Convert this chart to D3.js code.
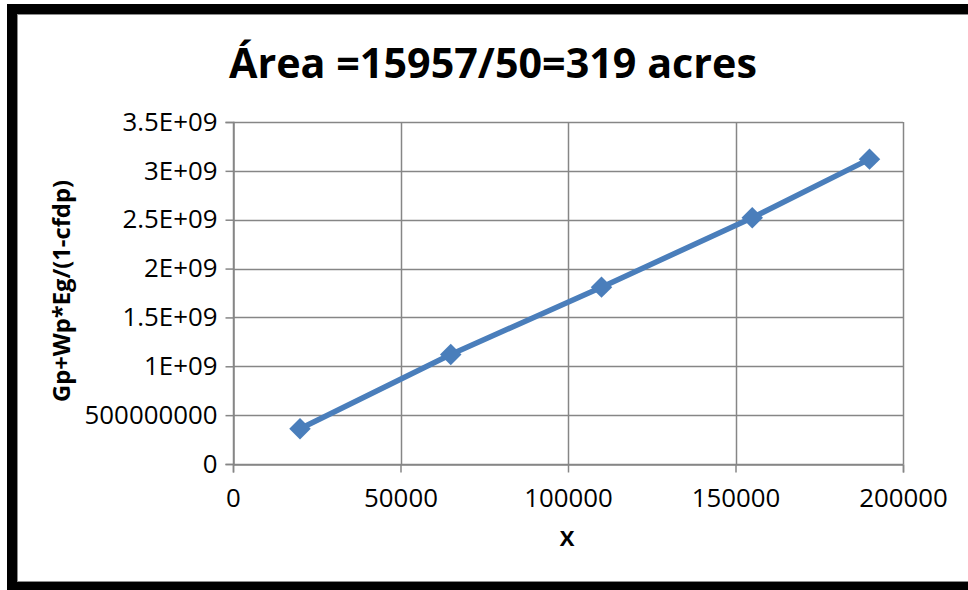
<!DOCTYPE html>
<html>
<head>
<meta charset="utf-8">
<script src="https://cdn.jsdelivr.net/npm/d3@7"></script>
<style>
  html, body { margin: 0; padding: 0; background: #fff; }
  svg { display: block; font-family: "Open Sans", Lato, sans-serif; }
</style>
</head>
<body>
<svg id="chart" width="968" height="590"></svg>
<script>
// Series: X vs Gp+Wp*Eg/(1-cfdp)
const xValues = [20000, 65000, 110000, 155000, 190000];
const yValues = [3.6e8, 1.12e9, 1.81e9, 2.52e9, 3.12e9];

// Axis ticks and labels
const xTicks = [0, 50000, 100000, 150000, 200000];
const xTickLabels = ["0", "50000", "100000", "150000", "200000"];
const yTicks = [0, 5e8, 1e9, 1.5e9, 2e9, 2.5e9, 3e9, 3.5e9];
const yTickLabels = ["0", "500000000", "1E+09", "1.5E+09", "2E+09", "2.5E+09", "3E+09", "3.5E+09"];

const titleText = "Área =15957/50=319 acres";
const xTitle = "X";
const yTitle = "Gp+Wp*Eg/(1-cfdp)";

const FONT = "'Open Sans', Lato, sans-serif";
const svg = d3.select("#chart");
const plot = { left: 233, right: 903, top: 122, bottom: 464 };

const x = d3.scaleLinear().domain([0, 200000]).range([plot.left, plot.right]);
const y = d3.scaleLinear().domain([0, 3.5e9]).range([plot.bottom, plot.top]);

// Font size that makes a string span the given width
function fitSize(text, weight, width) {
  const t = svg.append("text").attr("font-family", FONT).attr("font-weight", weight)
    .attr("font-size", 100).text(text);
  const w = t.node().getComputedTextLength();
  t.remove();
  return 100 * width / w;
}

const tickSize = fitSize("3.5E+09", "normal", 95);

// Outer frame: thick black border with a thin grey inner edge
svg.append("rect")
  .attr("x", 12).attr("y", 9).attr("width", 1000).attr("height", 578)
  .attr("fill", "none").attr("stroke", "#000").attr("stroke-width", 10);
svg.append("rect")
  .attr("x", 17.5).attr("y", 14.5).attr("width", 1000).attr("height", 567)
  .attr("fill", "none").attr("stroke", "#8c8c8c").attr("stroke-width", 1);

const grid = "#868686";

// Horizontal gridlines
svg.append("g").selectAll("line").data(yTicks).join("line")
  .attr("x1", plot.left).attr("x2", plot.right)
  .attr("y1", d => Math.round(y(d)) + 0.5).attr("y2", d => Math.round(y(d)) + 0.5)
  .attr("stroke", grid).attr("stroke-width", 1.5);

// Vertical gridlines
svg.append("g").selectAll("line").data(xTicks).join("line")
  .attr("y1", plot.top).attr("y2", plot.bottom)
  .attr("x1", d => Math.round(x(d)) + 0.5).attr("x2", d => Math.round(x(d)) + 0.5)
  .attr("stroke", grid).attr("stroke-width", 1.5);

// Y axis with tick marks and labels
const yAxis = d3.axisLeft(y).tickValues(yTicks)
  .tickFormat((d, i) => yTickLabels[i]).tickSize(8).tickPadding(8);
const gy = svg.append("g").attr("transform", `translate(${plot.left + 0.5},0)`).call(yAxis);
gy.select(".domain").attr("stroke", grid).attr("stroke-width", 1.5);
gy.selectAll(".tick line").attr("stroke", grid).attr("stroke-width", 1.5);
gy.selectAll(".tick text").attr("font-size", tickSize).attr("fill", "#000")
  .attr("font-family", FONT);

// X axis with tick marks and labels
const xAxis = d3.axisBottom(x).tickValues(xTicks)
  .tickFormat((d, i) => xTickLabels[i]).tickSize(8).tickPadding(16);
const gx = svg.append("g").attr("transform", `translate(0,${plot.bottom + 0.5})`).call(xAxis);
gx.select(".domain").attr("stroke", grid).attr("stroke-width", 1.5);
gx.selectAll(".tick line").attr("stroke", grid).attr("stroke-width", 1.5);
gx.selectAll(".tick text").attr("font-size", tickSize).attr("fill", "#000")
  .attr("font-family", FONT);

// Data line
const pts = xValues.map((v, i) => [v, yValues[i]]);
svg.append("path")
  .datum(pts)
  .attr("d", d3.line().x(d => x(d[0])).y(d => y(d[1])))
  .attr("fill", "none").attr("stroke", "#4a7ebb").attr("stroke-width", 5.5)
  .attr("stroke-linejoin", "round");

// Diamond markers
svg.append("g").selectAll("path").data(pts).join("path")
  .attr("d", d3.symbol().type(d3.symbolSquare).size(230))
  .attr("transform", d => `translate(${x(d[0])},${y(d[1])}) rotate(45)`)
  .attr("fill", "#4a7ebb");

// Titles
svg.append("text")
  .attr("x", 493).attr("y", 78).attr("text-anchor", "middle")
  .attr("font-family", FONT)
  .attr("font-size", fitSize(titleText, "bold", 528)).attr("font-weight", "bold").attr("fill", "#000")
  .text(titleText);

svg.append("text")
  .attr("x", 567).attr("y", 546).attr("text-anchor", "middle")
  .attr("font-family", FONT)
  .attr("font-size", 22).attr("font-weight", "bold").attr("fill", "#000")
  .text(xTitle);

svg.append("text")
  .attr("transform", "translate(70,291) rotate(-90)")
  .attr("text-anchor", "middle")
  .attr("font-family", FONT)
  .attr("font-size", fitSize(yTitle, "bold", 222)).attr("font-weight", "bold").attr("fill", "#000")
  .text(yTitle);
</script>
</body>
</html>
